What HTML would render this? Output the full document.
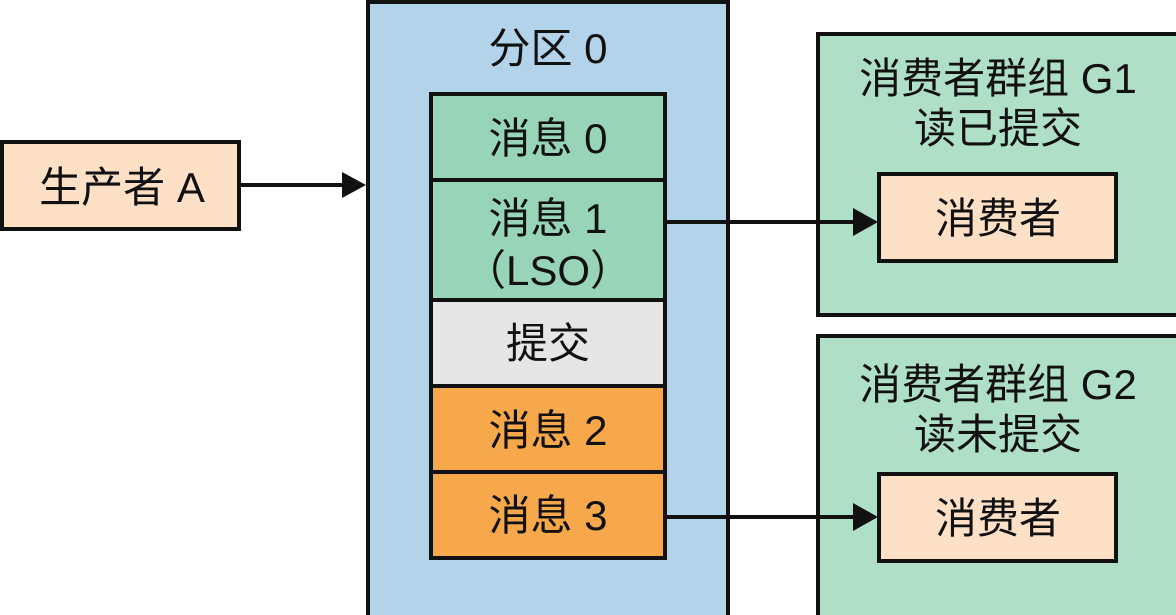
<!DOCTYPE html>
<html><head><meta charset="utf-8"><style>
html,body{margin:0;padding:0;background:#fff}
svg{display:block}
text{font-family:"Liberation Sans","Noto Sans CJK SC",sans-serif;font-size:42px;fill:#111;text-anchor:middle}
</style></head><body>
<svg width="1176" height="615" viewBox="0 0 1176 615">
<g stroke="#111" stroke-width="4">
<rect x="2" y="142" width="237" height="87" fill="#fde0c5"/>
<rect x="368" y="2" width="360" height="630" fill="#b2d3ea"/>
<rect x="818" y="34" width="370" height="281" fill="#b0dfc8"/>
<rect x="818" y="336" width="370" height="300" fill="#b0dfc8"/>
<rect x="431" y="94" width="234" height="86" fill="#98d5b8"/>
<rect x="431" y="180" width="234" height="120" fill="#98d5b8"/>
<rect x="431" y="300" width="234" height="86" fill="#e6e6e6"/>
<rect x="431" y="386" width="234" height="86" fill="#f7a84a"/>
<rect x="431" y="472" width="234" height="86" fill="#f7a84a"/>
<rect x="879" y="174" width="237" height="87" fill="#fde0c5"/>
<rect x="879" y="474" width="237" height="87" fill="#fde0c5"/>
<line x1="239" y1="185" x2="345" y2="185"/>
<line x1="665" y1="222" x2="856" y2="222"/>
<line x1="665" y1="517" x2="856" y2="517"/>
</g>
<g fill="#111">
<polygon points="342,172 366,185 342,198"/>
<polygon points="853,208 878,222 853,236"/>
<polygon points="853,503 878,517 853,531"/>
</g>
<text x="122" y="202">生产者 A</text>
<text x="548" y="63">分区 0</text>
<text x="548" y="153">消息 0</text>
<text x="548" y="233">消息 1</text>
<text x="548" y="285">（LSO）</text>
<text x="548" y="358">提交</text>
<text x="548" y="445">消息 2</text>
<text x="548" y="530">消息 3</text>
<text x="998" y="93">消费者群组 G1</text>
<text x="998" y="143">读已提交</text>
<text x="998" y="233">消费者</text>
<text x="998" y="399">消费者群组 G2</text>
<text x="998" y="449">读未提交</text>
<text x="998" y="533">消费者</text>
</svg>
</body></html>
